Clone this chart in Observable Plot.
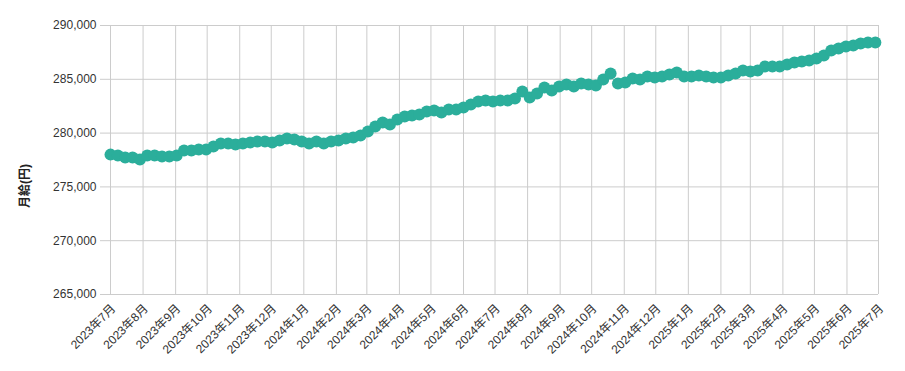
<!DOCTYPE html>
<html><head><meta charset="utf-8">
<script src="https://cdn.jsdelivr.net/npm/d3@7"></script>
<script src="https://cdn.jsdelivr.net/npm/@observablehq/plot@0.6"></script>
<style>body{margin:0;background:#fff;}</style>
</head><body><div id="chart"></div>
<script>
const startDate = "2023-07-01";
const endDate = "2025-07-01";
const salary = [
  278000, 277920, 277730, 277730, 277550, 277920, 277920, 277830, 277830, 277920,
  278380, 278380, 278480, 278480, 278760, 279030, 279030, 278940, 279030, 279130,
  279220, 279220, 279130, 279310, 279500, 279400, 279220, 279030, 279220, 279030,
  279220, 279310, 279500, 279590, 279780, 280150, 280620, 280990, 280800, 281270,
  281540, 281640, 281730, 282010, 282100, 281920, 282200, 282200, 282380, 282660,
  282940, 283030, 282940, 283030, 283030, 283220, 283870, 283310, 283680, 284240,
  283960, 284330, 284520, 284330, 284610, 284520, 284430, 284980, 285540, 284610,
  284700, 285080, 284980, 285260, 285170, 285260, 285450, 285630, 285260, 285260,
  285350, 285260, 285170, 285170, 285350, 285540, 285820, 285730, 285820, 286190,
  286190, 286190, 286380, 286560, 286660, 286750, 286940, 287210, 287680, 287870,
  288050, 288140, 288330, 288420, 288420
];
const yTicks = [265000, 270000, 275000, 280000, 285000, 290000];
const yLabel = "月給(円)";

const start = new Date(startDate + "T00:00:00Z");
const end = new Date(endDate + "T00:00:00Z");
const monthTicks = d3.utcMonth.range(start, d3.utcDay.offset(end, 1));
const data = salary.map((v, i) => ({date: d3.utcDay.offset(start, i * 7), value: v}));

const chart = Plot.plot({
  width: 905, height: 371,
  marginLeft: 110, marginRight: 27, marginTop: 25, marginBottom: 77,
  style: {fontFamily: '"Liberation Sans", Arial, "Noto Sans CJK JP", sans-serif', fontSize: "12px", color: "#333", background: "#fff"},
  x: {type: "utc", domain: [start, end]},
  y: {domain: [265000, 290000]},
  marks: [
    Plot.gridX(monthTicks, {stroke: "#ccc", strokeOpacity: 1}),
    Plot.gridY(yTicks, {stroke: "#ccc", strokeOpacity: 1}),
    Plot.axisY(yTicks, {tickSize: 10, stroke: "#ccc", fill: "#333", tickPadding: 4, tickFormat: d3.format(","), label: null}),
    Plot.axisX(monthTicks, {tickSize: 0, tickRotate: -45, fill: "#333", tickPadding: 12, dx: 3,
      tickFormat: d => `${d.getUTCFullYear()}年${d.getUTCMonth() + 1}月`, label: null}),
    Plot.dot(data, {x: "date", y: "value", r: 6, fill: "#2bae9b", stroke: "none"}),
    Plot.text([yLabel], {frameAnchor: "left", dx: -85, dy: 26, rotate: -90, textAnchor: "middle",
      fontWeight: "bold", fill: "#222", fontSize: 12, letterSpacing: "1px"})
  ]
});
document.getElementById("chart").appendChild(chart);
</script>
</body></html>
